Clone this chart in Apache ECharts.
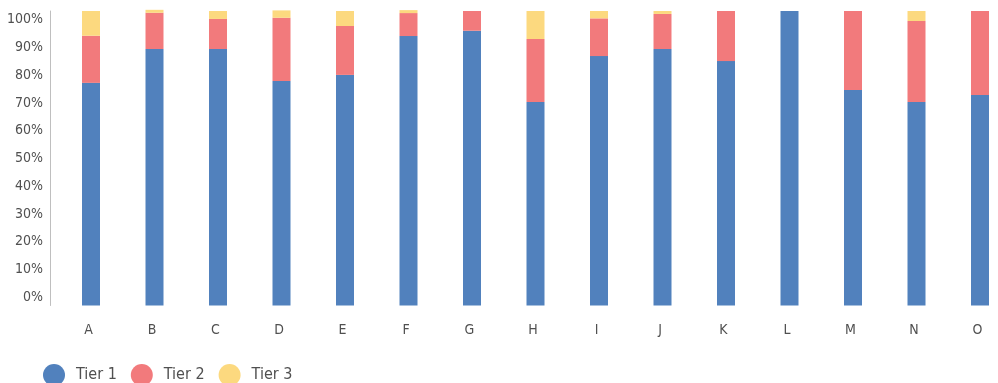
<!DOCTYPE html>
<html>
<head>
<meta charset="utf-8">
<script src="https://cdn.jsdelivr.net/npm/echarts@6/dist/echarts.min.js"></script>
<style>
  html, body { margin: 0; padding: 0; background: #ffffff; }
  #chart { width: 998px; height: 383px; }
</style>
</head>
<body>
<div id="chart"></div>
<script>
// Share of each tier per group (percent)
const categories = ['A', 'B', 'C', 'D', 'E', 'F', 'G', 'H', 'I', 'J', 'K', 'L', 'M', 'N', 'O'];
const tier1 = [75.6, 87.1, 87.1, 76.2, 78.3, 91.5, 93.3, 69.1, 84.7, 87.1, 83.0, 100, 73.2, 69.1, 71.5];
const tier2 = [16.0, 12.3, 10.2, 21.5, 16.6, 7.8, 6.7, 21.4, 12.8, 11.9, 17.0, 0, 26.8, 27.5, 28.5];
const tier3 = [8.4, 1.0, 2.7, 2.5, 5.1, 1.0, 0, 9.5, 2.5, 1.0, 0, 0, 0, 3.4, 0];
const seriesNames = ['Tier 1', 'Tier 2', 'Tier 3'];
const percentTicks = [0, 10, 20, 30, 40, 50, 60, 70, 80, 90, 100];

const FONT = '"DejaVu Sans Condensed", "DejaVu Sans", sans-serif';
const TEXT = '#505050';
const colors = ['#5181bd', '#f27a7c', '#fcd97f'];

const chart = echarts.init(document.getElementById('chart'), null, { renderer: 'canvas' });

function stacked(name, data, color) {
  return {
    name: name,
    type: 'bar',
    stack: 'total',
    xAxisIndex: 0,
    yAxisIndex: 0,
    barWidth: 18,
    clip: false,
    itemStyle: { color: color },
    emphasis: { disabled: true },
    data: data
  };
}

chart.setOption({
  animation: false,
  textStyle: { fontFamily: FONT },
  color: colors,
  grid: [
    // bars
    { left: 59.25, right: -13.75, top: 11, bottom: 77.5, outerBoundsMode: 'none', containLabel: false },
    // percentage scale labels
    { left: 50, right: 10, top: 19.7, bottom: 85.7, outerBoundsMode: 'none', containLabel: false }
  ],
  legend: {
    data: seriesNames,
    icon: 'circle',
    left: 38,
    top: 359,
    itemWidth: 34,
    itemHeight: 22,
    itemGap: 14,
    textStyle: { fontFamily: FONT, fontSize: 16, color: TEXT }
  },
  xAxis: [
    {
      gridIndex: 0,
      type: 'category',
      data: categories,
      axisLine: { show: false },
      axisTick: { show: false },
      axisLabel: { margin: 18, fontSize: 14, color: TEXT, fontFamily: FONT, padding: [0, 5, 0, 0] }
    },
    { gridIndex: 1, type: 'value', show: false }
  ],
  yAxis: [
    {
      gridIndex: 0,
      type: 'value',
      min: 0,
      max: 100,
      offset: 9.25,
      axisLine: { show: true, lineStyle: { color: '#bfbfbf', width: 1 } },
      axisTick: { show: false },
      axisLabel: { show: false },
      splitLine: { show: false }
    },
    {
      gridIndex: 1,
      type: 'value',
      min: percentTicks[0],
      max: percentTicks[percentTicks.length - 1],
      interval: 10,
      axisLine: { show: false },
      axisTick: { show: false },
      splitLine: { show: false },
      axisLabel: { margin: 7, fontSize: 14, color: TEXT, fontFamily: FONT, formatter: '{value}%' }
    }
  ],
  series: [
    stacked(seriesNames[0], tier1, colors[0]),
    stacked(seriesNames[1], tier2, colors[1]),
    stacked(seriesNames[2], tier3, colors[2])
  ]
});
</script>
</body>
</html>
